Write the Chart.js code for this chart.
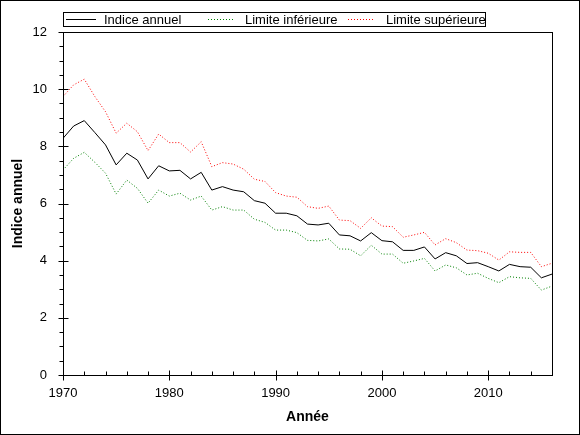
<!DOCTYPE html>
<html>
<head>
<meta charset="utf-8">
<script src="https://cdn.jsdelivr.net/npm/chart.js@4"></script>
<style>
  html, body { margin: 0; padding: 0; background: #fff; }
  canvas { display: block; }
</style>
</head>
<body>
<canvas id="chart-1" width="580" height="435"></canvas>
<script>
const annees = [];
for (let a = 1970; a <= 2016; a++) annees.push(a);

const indiceAnnuel = [8.28, 8.71, 8.90, 8.48, 8.05, 7.35, 7.76, 7.52, 6.86, 7.32,
  7.14, 7.16, 6.86, 7.09, 6.47, 6.59, 6.47, 6.41, 6.10, 6.01,
  5.66, 5.66, 5.57, 5.28, 5.25, 5.31, 4.90, 4.87, 4.69, 4.98,
  4.70, 4.66, 4.36, 4.36, 4.48, 4.06, 4.28, 4.17, 3.90, 3.93,
  3.79, 3.64, 3.87, 3.79, 3.77, 3.40, 3.53];

const limiteInf = [7.17, 7.58, 7.79, 7.44, 7.06, 6.33, 6.82, 6.53, 6.01, 6.47,
  6.26, 6.36, 6.12, 6.26, 5.77, 5.89, 5.77, 5.77, 5.45, 5.34,
  5.07, 5.07, 4.98, 4.71, 4.69, 4.76, 4.41, 4.40, 4.17, 4.54,
  4.23, 4.23, 3.91, 3.99, 4.08, 3.64, 3.85, 3.75, 3.50, 3.56,
  3.38, 3.23, 3.44, 3.40, 3.38, 2.97, 3.11];

const limiteSup = [9.74, 10.15, 10.35, 9.74, 9.21, 8.46, 8.81, 8.51, 7.85, 8.43,
  8.13, 8.13, 7.80, 8.16, 7.29, 7.43, 7.38, 7.20, 6.85, 6.77,
  6.38, 6.26, 6.22, 5.89, 5.83, 5.91, 5.42, 5.40, 5.13, 5.50,
  5.21, 5.19, 4.82, 4.90, 4.99, 4.55, 4.77, 4.63, 4.37, 4.35,
  4.26, 4.02, 4.31, 4.29, 4.29, 3.79, 3.91];

const xTicks = [1970, 1980, 1990, 2000, 2010];
const yTicks = [0, 2, 4, 6, 8, 10, 12];

const points = vals => annees.map((a, i) => ({ x: a, y: vals[i] }));

// cadre, axes, graduations et légende
const framePlugin = {
  id: 'frame',
  beforeDraw(chart) {
    const ctx = chart.ctx;
    ctx.save();
    ctx.fillStyle = '#fff';
    ctx.fillRect(0, 0, chart.width, chart.height);
    ctx.restore();
  },
  afterDraw(chart) {
    const ctx = chart.ctx;
    const a = chart.chartArea;
    const xs = chart.scales.x, ys = chart.scales.y;
    ctx.save();
    ctx.strokeStyle = '#000';
    ctx.lineWidth = 1;
    // bordure de l'image
    ctx.strokeRect(0.5, 0.5, chart.width - 1, chart.height - 1);
    // cadre du graphique
    ctx.strokeRect(Math.round(a.left) + 0.5, Math.round(a.top) + 0.5,
      Math.round(a.right - a.left), Math.round(a.bottom - a.top));
    ctx.beginPath();
    // graduations y
    for (let v = 0; v <= 12; v += 0.5) {
      const py = Math.round(ys.getPixelForValue(v)) + 0.5;
      const L = Math.round(a.left) + 0.5;
      if (v % 2 === 0) { ctx.moveTo(L - 5, py); ctx.lineTo(L + 5, py); }
      else { ctx.moveTo(L - 4, py); ctx.lineTo(L, py); }
    }
    // graduations x
    for (let yr = 1970; yr <= 2016; yr += 2) {
      const px = Math.round(xs.getPixelForValue(yr)) + 0.5;
      const B = Math.round(a.bottom) + 0.5;
      if (yr % 10 === 0) { ctx.moveTo(px, B - 5); ctx.lineTo(px, B + 5); }
      else { ctx.moveTo(px, B - 4); ctx.lineTo(px, B); }
    }
    ctx.stroke();

    // légende
    ctx.strokeRect(63.5, 12.5, 422, 14);
    const items = [
      { ds: 0, x0: 66, x1: 96, tx: 104 },
      { ds: 1, x0: 208, x1: 235, tx: 245 },
      { ds: 2, x0: 348, x1: 375, tx: 386 }
    ];
    ctx.font = '13px "Liberation Sans", Arial, sans-serif';
    ctx.textBaseline = 'middle';
    items.forEach(it => {
      const d = chart.data.datasets[it.ds];
      ctx.beginPath();
      ctx.strokeStyle = d.borderColor;
      ctx.setLineDash(d.borderDash || []);
      ctx.moveTo(it.x0, 19.5);
      ctx.lineTo(it.x1, 19.5);
      ctx.stroke();
      ctx.setLineDash([]);
      ctx.fillStyle = '#000';
      ctx.fillText(d.label, it.tx, 20);
    });
    ctx.restore();
  }
};

new Chart(document.getElementById('chart-1'), {
  type: 'line',
  data: {
    datasets: [{
      label: 'Indice annuel',
      data: points(indiceAnnuel),
      borderColor: '#000000',
      borderWidth: 1,
      pointRadius: 0,
      tension: 0
    }, {
      label: 'Limite inférieure',
      data: points(limiteInf),
      borderColor: '#008000',
      borderWidth: 1,
      borderDash: [1, 2],
      pointRadius: 0,
      tension: 0
    }, {
      label: 'Limite supérieure',
      data: points(limiteSup),
      borderColor: '#ff0000',
      borderWidth: 1,
      borderDash: [1, 2],
      pointRadius: 0,
      tension: 0
    }]
  },
  options: {
    responsive: false,
    animation: false,
    devicePixelRatio: 1,
    layout: { padding: { left: 0, top: 32, right: 28, bottom: 0 } },
    plugins: {
      legend: { display: false },
      tooltip: { enabled: false }
    },
    scales: {
      x: {
        type: 'linear',
        min: 1970,
        max: 2016,
        afterFit: s => { s.height = 60; },
        afterBuildTicks: s => { s.ticks = xTicks.map(v => ({ value: v })); },
        grid: { display: false, drawTicks: false },
        border: { display: false },
        ticks: {
          padding: 11,
          color: '#000',
          callback: v => String(v),
          font: { family: '"Liberation Sans", Arial, sans-serif', size: 13 }
        },
        title: {
          display: true,
          text: 'Année',
          color: '#000',
          padding: { top: 9, bottom: 9 },
          font: { family: '"Liberation Sans", Arial, sans-serif', size: 14, weight: 'bold' }
        }
      },
      y: {
        min: 0,
        max: 12,
        afterFit: s => { s.width = 63; },
        afterBuildTicks: s => { s.ticks = yTicks.map(v => ({ value: v })); },
        grid: { display: false, drawTicks: false },
        border: { display: false },
        ticks: {
          padding: 16,
          color: '#000',
          font: { family: '"Liberation Sans", Arial, sans-serif', size: 13 }
        },
        title: {
          display: true,
          text: 'Indice annuel',
          color: '#000',
          padding: { top: 10, bottom: 10 },
          font: { family: '"Liberation Sans", Arial, sans-serif', size: 14, weight: 'bold' }
        }
      }
    }
  },
  plugins: [framePlugin]
});
</script>
</body>
</html>
